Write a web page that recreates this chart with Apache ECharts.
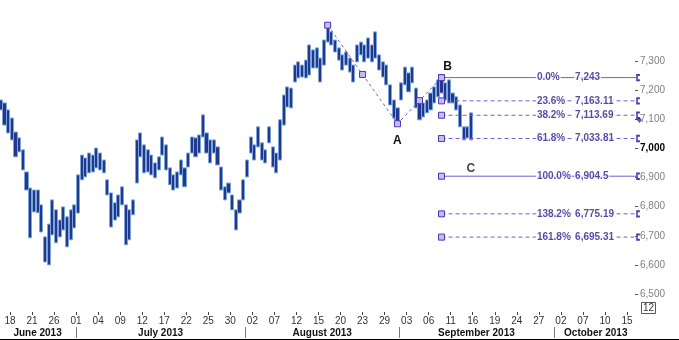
<!DOCTYPE html>
<html><head><meta charset="utf-8">
<script src="https://cdn.jsdelivr.net/npm/echarts@6.0.0/dist/echarts.min.js"></script>
<style>html,body{margin:0;padding:0;background:#fff}#c{width:679px;height:340px}</style>
</head><body><div id="c"></div>
<script>
// ---------- data ----------
const firstDay = '2013-06-17';
const lastDay = '2013-10-16';
const holidays = ['2013-08-26'];
const months = ['June 2013','July 2013','August 2013','September 2013','October 2013'];
const monthKeys = ['2013-06','2013-07','2013-08','2013-09','2013-10'];
const halfNames = ['AM','PM'];
// price ranges per half-day (high / low)
const priceHigh = [7166,7156,7132,7104,7056,7036,6995,6919,6864,6857,
 6857,6806,6696,6740,6823,6789,6754,6799,6765,6789,
 6806,6909,6977,6967,6984,6977,7001,6984,6960,6892,
 6847,6813,6840,6868,6806,6789,6823,7029,7053,7012,
 6995,6977,6950,6971,7039,7012,6933,6909,6919,6960,
 6933,6984,7039,7036,7046,7115,7053,7029,7029,7005,
 6936,6868,6881,6840,6789,6823,6892,6960,7039,7012,
 7074,7019,6995,7074,7005,6984,7098,7183,7211,7207,
 7286,7297,7286,7303,7355,7338,7345,7310,7372,7423,
 7400,7372,7345,7321,7331,7310,7286,7355,7365,7355,
 7379,7355,7400,7321,7297,7286,7218,7166,7139,7225,
 7279,7259,7279,7207,7156,7156,7166,7190,7211,7235,
 7243,7225,7235,7190,7177,7149,7074,7074,7122];
const priceLow = [7132,7080,7053,7029,6971,6988,6926,6857,6693,6782,
 6779,6713,6610,6600,6703,6676,6696,6720,6662,6686,
 6727,6778,6892,6902,6916,6919,6933,6926,6916,6840,
 6730,6754,6765,6806,6669,6686,6772,6881,6971,6916,
 6919,6909,6899,6926,6977,6926,6875,6857,6864,6909,
 6868,6936,6984,6971,6984,7039,6984,6950,6984,6943,
 6857,6823,6847,6789,6720,6778,6823,6902,6984,6960,
 7005,6960,6950,7019,6936,6916,6960,7080,7142,7139,
 7228,7242,7245,7242,7252,7276,7276,7228,7286,7365,
 7355,7331,7303,7269,7286,7262,7228,7297,7321,7297,
 7310,7297,7310,7269,7245,7218,7149,7104,7084.5,7166,
 7218,7194,7225,7139,7098,7108,7122,7132,7156,7177,
 7190,7166,7156,7156,7132,7074,7029,7036,7029];
// wave points X, A, B (half-day slot index, price)
const waveNames = ['X','A','B'];
const waveSlot = [89,108,120];
const wavePrice = [7423,7084.5,7243];
const fibPct = ['0.0%','23.6%','38.2%','61.8%','100.0%','138.2%','161.8%'];
const fibVal = [7243,7163.11,7113.69,7033.81,6904.5,6775.19,6695.31];
const fibSolid = [true,false,false,false,true,false,false];
const cLevel = 6904.5;
const lastPrice = [7097];
const yTicks = [6500,6600,6700,6800,6900,7000,7100,7200,7300];

// ---------- categories ----------
const days = [];
(function(){
  const d = new Date(firstDay+'T12:00:00Z'), end = new Date(lastDay+'T12:00:00Z');
  while (d <= end) {
    const s = d.toISOString().slice(0,10), wd = d.getUTCDay();
    if (wd !== 0 && wd !== 6 && holidays.indexOf(s) < 0) days.push(s);
    d.setUTCDate(d.getUTCDate()+1);
  }
})();
const slots = [];
days.forEach(d => halfNames.forEach(h => slots.push(d+' '+h)));
const nSlots = slots.length;

const candles = priceHigh.map((h,i) => [priceLow[i], h, priceLow[i], h]);

const FONT = 'Liberation Sans, Arial, sans-serif';
const LINE = '#6f5fd2';
const TEXT = '#2b1c8e';
const showDay = (i) => i % 3 === 1;

const sx = s => s + 0.5; // slot centre on the overlay value axis
const wx = waveSlot.map(sx);
const wavePts = [];
for (let i = 0; i < wx.length; i++) {
  if (i > 0) wavePts.push({value:[(wx[i-1]+wx[i])/2,(wavePrice[i-1]+wavePrice[i])/2]});
  const p = {value:[wx[i], wavePrice[i]]};
  if (waveNames[i] === 'A') p.label = {show:true, formatter:'A', position:'bottom', distance:7};
  if (waveNames[i] === 'B') p.label = {show:true, formatter:'B', position:'top', distance:1, offset:[6,0]};
  wavePts.push(p);
}
const bX = wx[2];

const bracket = 'path://M0,0 H3 V1 H1 V9 H3 V10 H0 Z';
const series = [];
series.push({
  type:'candlestick', xAxisIndex:1, yAxisIndex:0, data:candles, barWidth:3.6, clip:false, silent:true,
  itemStyle:{color:'#22388f', color0:'#22388f', borderColor:'#7aa5d8', borderColor0:'#7aa5d8', borderWidth:1}
});
fibVal.forEach((v,i) => {
  series.push({
    type:'line', xAxisIndex:2, yAxisIndex:0, clip:false, silent:true, z:3,
    data:[[bX, v],[nSlots, v]], showAllSymbol:true,
    symbol:(val, p) => p.dataIndex === 0 ? 'rect' : bracket,
    symbolSize:(val, p) => p.dataIndex === 0 ? 6 : [3,6],
    itemStyle:{color:'#c4bcf2', borderColor:'#4a38b0', borderWidth:1},
    lineStyle:{color:LINE, width:1, type: fibSolid[i] ? 'solid' : [4,3]}
  });
});
series.push({
  type:'line', xAxisIndex:2, yAxisIndex:0, clip:false, silent:true, z:4,
  data:wavePts, symbol:'rect', symbolSize:6, showAllSymbol:true,
  itemStyle:{color:'#c4bcf2', borderColor:'#4a38b0', borderWidth:1},
  lineStyle:{color:LINE, width:1, type:[3,3]},
  label:{color:'#111', fontFamily:FONT, fontWeight:'bold', fontSize:12}
});
const fmtVal = v => v.toLocaleString('en-US',{maximumFractionDigits:2});
const labelPts = [];
fibVal.forEach((v,i) => {
  labelPts.push({value:[146.2, v], name:fibPct[i]});
  labelPts.push({value:[156.6, v], name:fmtVal(v)});
});
series.push({
  type:'scatter', xAxisIndex:2, yAxisIndex:0, clip:false, silent:true, z:6,
  data:labelPts, symbolSize:0,
  label:{show:true, position:'right', distance:0, formatter:p => p.name, color:TEXT,
    fontFamily:FONT, fontWeight:'bold', fontSize:10, backgroundColor:'#fff', padding:[0,1]}
});
series.push({
  type:'scatter', xAxisIndex:2, yAxisIndex:0, clip:false, silent:true, z:6,
  data:[[128.5, cLevel]], symbolSize:0,
  label:{show:true, position:'top', distance:2, formatter:'C', color:'#111', fontFamily:FONT, fontWeight:'bold', fontSize:12}
});
series.push({
  type:'scatter', xAxisIndex:2, yAxisIndex:0, clip:false, silent:true, z:6,
  data:[[nSlots + 0.4, lastPrice[0]]], symbol:'diamond', symbolSize:[5,6],
  itemStyle:{color:'#1e3a8f'}
});

const chart = echarts.init(document.getElementById('c'), null, {renderer:'canvas'});
chart.setOption({
  animation:false,
  backgroundColor:'#fff',
  grid:{left:-1, right:41, top:61, bottom:46, containLabel:false, outerBoundsMode:'none'},
  xAxis:[
    {type:'category', data:days, boundaryGap:true, position:'bottom', offset:18,
     axisLine:{show:false, onZero:false},
     axisTick:{show:true, length:3, alignWithLabel:true, interval:showDay, lineStyle:{color:'#444'}},
     axisLabel:{interval:showDay, formatter:v => v.slice(8), color:'#333', fontSize:10, fontFamily:FONT, margin:4},
     splitLine:{show:false}},
    {type:'category', data:slots, boundaryGap:true, show:false, axisLine:{onZero:false}},
    {type:'value', min:0, max:nSlots, show:false, axisLine:{onZero:false}}
  ],
  yAxis:[{
    type:'value', position:'right', min:yTicks[0], max:yTicks[yTicks.length-1], interval:100,
    axisLine:{show:false, onZero:false},
    axisTick:{show:true, inside:true, length:3, lineStyle:{color:'#555', width:1}},
    splitLine:{show:false},
    axisLabel:{margin:2, color:'#808080', fontSize:10, fontFamily:FONT,
      formatter:v => v === 7000 ? '{b|7,000}' : v.toLocaleString('en-US'),
      rich:{b:{color:'#000', fontWeight:'bold', fontSize:10, fontFamily:FONT}}}
  }],
  series:series
});

// month row below the date labels, positioned with the category axis
const graphics = [];
const gridRight = chart.convertToPixel({xAxisIndex:2}, nSlots);
const gridLeft = chart.convertToPixel({xAxisIndex:2}, 0);
const starts = monthKeys.map(k => {
  const d = days.find(x => x.slice(0,7) === k);
  return chart.convertToPixel({xAxisIndex:0}, d);
});
starts.forEach((x,i) => {
  if (i > 0) graphics.push({type:'line', shape:{x1:Math.round(x)+0.5, y1:327, x2:Math.round(x)+0.5, y2:338}, style:{stroke:'#777', lineWidth:1}});
  const a = i === 0 ? gridLeft : x;
  const b = i + 1 < starts.length ? starts[i+1] : gridRight;
  graphics.push({type:'text', x:(a+b)/2, y:333, style:{text:months[i], font:'bold 10px '+FONT, fill:'#111', align:'center', verticalAlign:'middle'}});
});
graphics.push({type:'line', shape:{x1:0, y1:339.5, x2:679, y2:339.5}, style:{stroke:'#000', lineWidth:1}});
graphics.push({type:'rect', shape:{x:641.5, y:302.5, width:14, height:11}, style:{fill:'#fff', stroke:'#555', lineWidth:1}});
graphics.push({type:'text', x:648.5, y:308.5, style:{text:'12', font:'10px '+FONT, fill:'#333', align:'center', verticalAlign:'middle'}});
chart.setOption({graphic:graphics});
</script>
</body></html>
